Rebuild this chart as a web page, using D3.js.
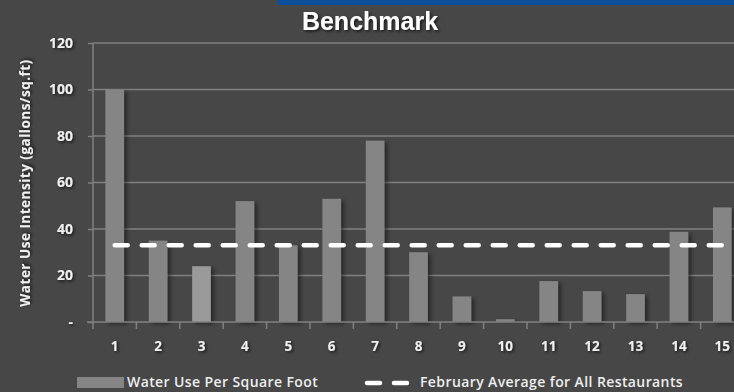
<!DOCTYPE html>
<html>
<head>
<meta charset="utf-8">
<script src="https://cdn.jsdelivr.net/npm/d3@7"></script>
<style>
  body { margin: 0; background: #474747; }
  svg { display: block; }
  text { font-family: 'Open Sans', 'Liberation Sans', sans-serif; }
</style>
</head>
<body>
<script>
const categories = ['1', '2', '3', '4', '5', '6', '7', '8', '9', '10', '11', '12', '13', '14', '15']
const waterUse = [100, 35, 24, 52, 33, 53, 78, 30, 11, 1.2, 17.6, 13.3, 12, 38.8, 49.3]
const februaryAverage = 33
const yTicks = [0, 20, 40, 60, 80, 100, 120]

const width = 734
const height = 392
const margin = { top: 43, right: -10, bottom: 70, left: 93 }

const svg = d3.select('body').append('svg')
  .attr('width', width)
  .attr('height', height)

const defs = svg.append('defs')
defs.append('filter')
  .attr('id', 'barShadow')
  .attr('x', '-30%').attr('y', '-10%').attr('width', '170%').attr('height', '130%')
  .append('feDropShadow')
  .attr('dx', 3).attr('dy', 2).attr('stdDeviation', 2)
  .attr('flood-color', '#000').attr('flood-opacity', 0.45)
defs.append('filter')
  .attr('id', 'textShadow')
  .attr('x', '-30%').attr('y', '-30%').attr('width', '160%').attr('height', '160%')
  .append('feDropShadow')
  .attr('dx', 1.5).attr('dy', 1.5).attr('stdDeviation', 1.5)
  .attr('flood-color', '#000').attr('flood-opacity', 0.7)

svg.append('rect')
  .attr('width', width).attr('height', height)
  .attr('fill', '#474747')

// blue strip at the top
svg.append('rect')
  .attr('x', 277).attr('y', 0)
  .attr('width', width - 277).attr('height', 5)
  .attr('fill', '#0c4f9b')

const xScale = d3.scaleBand()
  .domain(categories)
  .range([margin.left, width - margin.right])
  .paddingInner(0.57)
  .paddingOuter(0.285)

const cellScale = d3.scaleBand()
  .domain(categories)
  .range([margin.left, width - margin.right])

const yScale = d3.scaleLinear()
  .domain([0, 120])
  .range([height - margin.bottom, margin.top])

// gridlines
svg.append('g')
  .selectAll('line')
  .data(yTicks.slice(1))
  .enter().append('line')
  .attr('x1', margin.left)
  .attr('x2', width)
  .attr('y1', d => yScale(d))
  .attr('y2', d => yScale(d))
  .style('stroke', '#808080')
  .style('stroke-width', 1.5)

// bars
svg.append('g')
  .selectAll('rect')
  .data(waterUse)
  .enter().append('rect')
  .attr('x', (d, i) => xScale(categories[i]))
  .attr('y', d => yScale(d))
  .attr('width', xScale.bandwidth())
  .attr('height', d => yScale(0) - yScale(d))
  .attr('fill', (d, i) => i === 2 ? '#9a9a9a' : '#858585')
  .attr('filter', 'url(#barShadow)')

// y axis
const yAxis = svg.append('g')
  .attr('transform', `translate(${margin.left}, 0)`)
  .call(d3.axisLeft(yScale)
    .tickValues(yTicks)
    .tickFormat(d => d === 0 ? '-' : d)
    .tickSizeInner(5)
    .tickSizeOuter(0)
    .tickPadding(15))
yAxis.select('.domain').remove()
yAxis.selectAll('line').style('stroke', '#808080').style('stroke-width', 1.5)
yAxis.selectAll('text')
  .style('fill', '#f0f0f0')
  .style('font-size', '14px')
  .style('font-weight', 'bold')
  .attr('filter', 'url(#textShadow)')

svg.append('line')
  .attr('x1', margin.left).attr('x2', margin.left)
  .attr('y1', margin.top).attr('y2', yScale(0) + 7)
  .style('stroke', '#808080').style('stroke-width', 1.5)

// x axis line and category boundary ticks
svg.append('line')
  .attr('x1', margin.left - 6).attr('x2', width)
  .attr('y1', yScale(0)).attr('y2', yScale(0))
  .style('stroke', '#808080').style('stroke-width', 1.5)

svg.append('g')
  .selectAll('line')
  .data(categories.slice(1))
  .enter().append('line')
  .attr('x1', d => cellScale(d))
  .attr('x2', d => cellScale(d))
  .attr('y1', yScale(0))
  .attr('y2', yScale(0) + 7)
  .style('stroke', '#808080').style('stroke-width', 1.5)

svg.append('g')
  .selectAll('text')
  .data(categories)
  .enter().append('text')
  .attr('x', d => xScale(d) + xScale.bandwidth() / 2)
  .attr('y', yScale(0) + 29)
  .attr('text-anchor', 'middle')
  .style('fill', '#f0f0f0')
  .style('font-size', '13.5px')
  .style('font-weight', 'bold')
  .attr('filter', 'url(#textShadow)')
  .text(d => d)

// average line
const avgLine = d3.line()
  .x(d => xScale(d) + xScale.bandwidth() / 2)
  .y(() => yScale(februaryAverage))

svg.append('path')
  .datum([categories[0], categories[categories.length - 1]])
  .attr('d', avgLine)
  .style('fill', 'none')
  .style('stroke', '#ffffff')
  .style('stroke-width', 4.5)
  .style('stroke-dasharray', '13,14')
  .style('stroke-linecap', 'round')

// title
svg.append('text')
  .attr('x', 370)
  .attr('y', 30)
  .attr('text-anchor', 'middle')
  .style('font-family', "'Liberation Sans', Arial, sans-serif")
  .style('font-size', '25px')
  .style('font-weight', 'bold')
  .style('fill', '#ffffff')
  .attr('filter', 'url(#textShadow)')
  .text('Benchmark')

// y axis title
svg.append('text')
  .attr('transform', 'translate(30, 183) rotate(-90)')
  .attr('text-anchor', 'middle')
  .style('font-size', '13.5px')
  .style('font-weight', 'bold')
  .style('letter-spacing', '0.5px')
  .style('fill', '#f0f0f0')
  .attr('filter', 'url(#textShadow)')
  .text('Water Use Intensity (gallons/sq.ft)')

// legend
const legend = svg.append('g')
legend.append('rect')
  .attr('x', 77).attr('y', 377)
  .attr('width', 47).attr('height', 11)
  .attr('fill', '#858585')
legend.append('text')
  .attr('x', 127).attr('y', 387)
  .style('font-size', '14px')
  .style('font-weight', 600)
  .style('letter-spacing', '0.4px')
  .style('fill', '#eeeeee')
  .text('Water Use Per Square Foot')
legend.append('line')
  .attr('x1', 367).attr('x2', 410)
  .attr('y1', 383).attr('y2', 383)
  .style('stroke', '#ffffff')
  .style('stroke-width', 4.5)
  .style('stroke-dasharray', '13,14')
  .style('stroke-linecap', 'round')
legend.append('text')
  .attr('x', 420).attr('y', 387)
  .style('font-size', '14px')
  .style('font-weight', 600)
  .style('letter-spacing', '0.4px')
  .style('fill', '#eeeeee')
  .text('February Average for All Restaurants')
</script>
</body>
</html>
